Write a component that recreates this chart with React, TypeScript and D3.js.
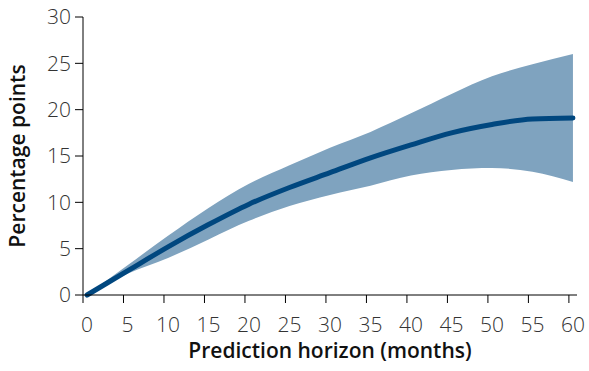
import React, { useEffect, useRef } from 'react';
import * as d3 from 'd3';

// months ahead, point estimate and band edges (percentage points)
const months = [0, 5, 10, 15, 20, 25, 30, 35, 40, 45, 50, 55, 60];
const estimate = [0, 2.6, 5.2, 7.6, 9.8, 11.6, 13.2, 14.8, 16.2, 17.5, 18.4, 19.0, 19.1];
const upper = [0, 3.2, 6.4, 9.4, 12.0, 14.0, 15.9, 17.6, 19.6, 21.7, 23.6, 24.9, 26.0];
const lower = [0, 2.3, 4.0, 6.0, 8.0, 9.6, 10.8, 11.8, 12.9, 13.5, 13.7, 13.3, 12.2];

const xTicks = [0, 5, 10, 15, 20, 25, 30, 35, 40, 45, 50, 55, 60];
const yTicks = [0, 5, 10, 15, 20, 25, 30];

type Row = { m: number; est: number; lo: number; hi: number };

const App = () => {
	const ref = useRef<SVGSVGElement>(null);

	useEffect(() => {
		const width = 589;
		const height = 371;
		const margin = { top: 17, right: 12, bottom: 76, left: 83 };
		const font = "'Open Sans', sans-serif";

		const data: Row[] = months.map((m, i) => ({ m, est: estimate[i], lo: lower[i], hi: upper[i] }));

		const svg = d3.select(ref.current);
		svg.selectAll('*').remove();

		// category style axis: each month sits in the middle of its slot
		const x = d3.scaleLinear()
			.domain([-0.5, 60.5])
			.range([margin.left, width - margin.right]);

		const y = d3.scaleLinear()
			.domain([0, 30])
			.range([height - margin.bottom, margin.top]);

		const area = d3.area<Row>()
			.x(d => x(d.m))
			.y0(d => y(d.lo))
			.y1(d => y(d.hi))
			.curve(d3.curveMonotoneX);

		const line = d3.line<Row>()
			.x(d => x(d.m))
			.y(d => y(d.est))
			.curve(d3.curveMonotoneX);

		svg.append('path')
			.datum(data)
			.attr('fill', '#7fa3bf')
			.attr('d', area);

		svg.append('path')
			.datum(data)
			.attr('fill', 'none')
			.attr('stroke', '#00477f')
			.attr('stroke-width', 5)
			.attr('stroke-linecap', 'round')
			.attr('stroke-linejoin', 'round')
			.attr('d', line);

		// y axis
		const yAxis = svg.append('g');
		yAxis.append('line')
			.attr('x1', x(-0.5)).attr('x2', x(-0.5))
			.attr('y1', y(30)).attr('y2', y(0))
			.attr('stroke', '#000');
		yAxis.selectAll('line.tick')
			.data(yTicks)
			.join('line')
			.attr('class', 'tick')
			.attr('x1', x(-0.5) - 8).attr('x2', x(-0.5))
			.attr('y1', d => y(d)).attr('y2', d => y(d))
			.attr('stroke', '#000');
		yAxis.selectAll('text')
			.data(yTicks)
			.join('text')
			.attr('x', x(-0.5) - 12)
			.attr('y', d => y(d))
			.attr('dy', '0.35em')
			.attr('text-anchor', 'end')
			.attr('font-family', font)
			.attr('font-weight', 300)
			.attr('font-size', 21)
			.attr('fill', '#333')
			.text(d => d);

		// x axis
		const xAxis = svg.append('g');
		xAxis.append('line')
			.attr('x1', x(-0.5)).attr('x2', x(60.5))
			.attr('y1', y(0)).attr('y2', y(0))
			.attr('stroke', '#000');
		xAxis.selectAll('line.tick')
			.data(xTicks)
			.join('line')
			.attr('class', 'tick')
			.attr('x1', d => x(d - 0.5)).attr('x2', d => x(d - 0.5))
			.attr('y1', y(0)).attr('y2', y(0) + 8)
			.attr('stroke', '#000');
		xAxis.selectAll('text')
			.data(xTicks)
			.join('text')
			.attr('x', d => x(d))
			.attr('y', y(0) + 37)
			.attr('text-anchor', 'middle')
			.attr('font-family', font)
			.attr('font-weight', 300)
			.attr('font-size', 21)
			.attr('fill', '#333')
			.text(d => d);

		svg.append('text')
			.attr('x', 330)
			.attr('y', 358)
			.attr('text-anchor', 'middle')
			.attr('font-family', font)
			.attr('font-weight', 600)
			.attr('font-size', 21)
			.attr('fill', '#111')
			.text('Prediction horizon (months)');

		svg.append('text')
			.attr('transform', 'translate(25,156) rotate(-90)')
			.attr('text-anchor', 'middle')
			.attr('font-family', font)
			.attr('font-weight', 600)
			.attr('font-size', 21)
			.attr('fill', '#111')
			.text('Percentage points');
	}, []);

	return (
		<svg ref={ref} width={589} height={371}
			style={{ position: 'absolute', left: 0, top: 0, background: '#fff' }} />
	);
};

export default App;
